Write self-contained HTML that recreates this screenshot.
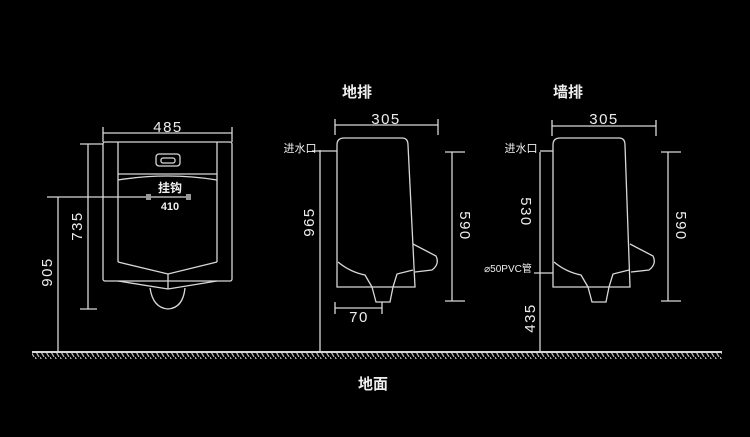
<!DOCTYPE html>
<html><head><meta charset="utf-8"><style>
html,body{margin:0;padding:0;background:#000;width:750px;height:437px;overflow:hidden}
svg{display:block}
text{font-family:"Liberation Sans","Noto Sans CJK SC",sans-serif;fill:#eee}
</style></head><body>
<svg width="750" height="437" viewBox="0 0 750 437" xmlns="http://www.w3.org/2000/svg">
<defs>
<pattern id="h" width="5" height="7" patternUnits="userSpaceOnUse"><line x1="0" y1="0" x2="4" y2="7" stroke="#bbb" stroke-width="1.2"/></pattern>
</defs>
<g stroke="#d8d8d8" stroke-width="1.3" fill="none">
<line x1="32" y1="352" x2="722" y2="352" stroke-width="2"/>
<rect x="32" y="353" width="690" height="6" fill="url(#h)" stroke="none"/>

<rect x="103" y="142" width="129" height="139" rx="2"/>
<line x1="118" y1="142" x2="118" y2="262"/>
<line x1="217" y1="142" x2="217" y2="262"/>
<line x1="118" y1="174" x2="217" y2="174"/>
<path d="M118 180 Q168 172 217 180"/>
<rect x="156" y="154" width="24" height="12" rx="3"/>
<rect x="161" y="158" width="14" height="5" rx="2"/>
<path d="M118 262 L168 274 L217 262"/>
<path d="M118 281 L168 289 L217 281"/>
<line x1="168" y1="274" x2="168" y2="289"/>
<path d="M150 288 Q153 308 168 309 Q183 308 185 288"/>
<line x1="103" y1="133" x2="232" y2="133"/>
<line x1="103" y1="127" x2="103" y2="142"/>
<line x1="232" y1="127" x2="232" y2="142"/>
<line x1="88" y1="144" x2="88" y2="309"/>
<line x1="80" y1="144" x2="103" y2="144"/>
<line x1="80" y1="309" x2="97" y2="309"/>
<line x1="58" y1="197" x2="58" y2="352"/>
<line x1="47" y1="197" x2="190" y2="197"/>
<rect x="146" y="194" width="5" height="6" fill="#999" stroke="none"/>
<rect x="186" y="194" width="5" height="6" fill="#999" stroke="none"/>

<path d="M337 145 Q337 138 344 138 L402 138 Q408 138 408 145 L415 287 L337 287 Z"/>
<path d="M413 244 L436 256 Q440 264 432 270 L415 272"/>
<path d="M338 262 Q350 272 365 275 L372 287 M393 287 L397 274 L413 270"/>
<path d="M372 287 L376 302 L390 302 L393 287"/>
<line x1="335" y1="125" x2="438" y2="125"/>
<line x1="335" y1="119" x2="335" y2="135"/>
<line x1="438" y1="119" x2="438" y2="135"/>
<line x1="452" y1="152" x2="452" y2="301"/>
<line x1="445" y1="152" x2="465" y2="152"/>
<line x1="445" y1="301" x2="465" y2="301"/>
<line x1="320" y1="150" x2="320" y2="352"/>
<line x1="312" y1="151" x2="337" y2="151"/>
<line x1="335" y1="308" x2="382" y2="308"/>
<line x1="335" y1="302" x2="335" y2="314"/>
<line x1="382" y1="302" x2="382" y2="314"/>

<path d="M553 145 Q553 138 560 138 L619 138 Q625 138 625 145 L630 287 L553 287 Z"/>
<path d="M630 244 L653 256 Q657 264 649 270 L631 272"/>
<path d="M554 262 Q566 272 581 275 L588 287 M609 287 L613 274 L629 270"/>
<path d="M588 287 L592 302 L606 302 L609 287"/>
<line x1="552" y1="126" x2="656" y2="126"/>
<line x1="552" y1="120" x2="552" y2="136"/>
<line x1="656" y1="120" x2="656" y2="136"/>
<line x1="668" y1="152" x2="668" y2="301"/>
<line x1="661" y1="152" x2="681" y2="152"/>
<line x1="661" y1="301" x2="681" y2="301"/>
<line x1="540" y1="152" x2="540" y2="352"/>
<line x1="540" y1="151" x2="553" y2="151"/>
<line x1="534" y1="273" x2="553" y2="273"/>
</g>

<g font-size="15" text-anchor="middle">
<text x="168" y="132" letter-spacing="1.5">485</text>
<text x="170" y="192" font-size="12" font-weight="bold">挂钩</text>
<text x="170" y="210" font-size="11" font-weight="bold">410</text>
<text transform="translate(82,226) rotate(-90)" text-anchor="middle" letter-spacing="1.5">735</text>
<text transform="translate(52,272) rotate(-90)" text-anchor="middle" letter-spacing="1.5">905</text>

<text x="357" y="97" font-size="15" font-weight="bold">地排</text>
<text x="386" y="124" letter-spacing="1.5">305</text>
<text x="300" y="152" font-size="11">进水口</text>
<text transform="translate(314,222) rotate(-90)" text-anchor="middle" letter-spacing="1.5">965</text>
<text transform="translate(460,226) rotate(90)" text-anchor="middle" letter-spacing="1.5">590</text>
<text x="359" y="322" letter-spacing="1.5">70</text>

<text x="568" y="97" font-size="15" font-weight="bold">墙排</text>
<text x="604" y="124" letter-spacing="1.5">305</text>
<text x="521" y="152" font-size="11">进水口</text>
<text transform="translate(521,212) rotate(90)" text-anchor="middle" letter-spacing="1.5">530</text>
<text transform="translate(535,318) rotate(-90)" text-anchor="middle" letter-spacing="1.5">435</text>
<text transform="translate(676,226) rotate(90)" text-anchor="middle" letter-spacing="1.5">590</text>
<text x="508" y="272" font-size="10">⌀50PVC管</text>

<text x="373" y="389" font-size="15" font-weight="bold">地面</text>
</g>
</svg>
</body></html>
